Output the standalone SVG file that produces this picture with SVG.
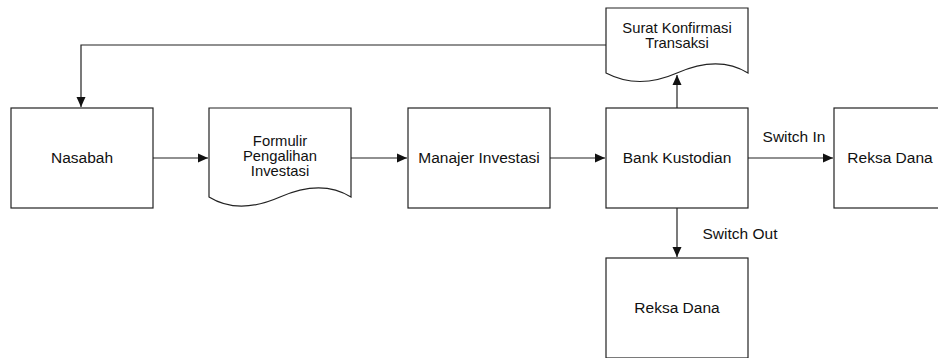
<svg xmlns="http://www.w3.org/2000/svg" width="938" height="358" viewBox="0 0 938 358">
<style>
.box{fill:#fff;stroke:#222;stroke-width:1.2}
.con{fill:none;stroke:#222;stroke-width:1.2}
text{font-family:"Liberation Sans",Arial,sans-serif;font-size:15.5px;fill:#111;text-anchor:middle}
text.ml{font-size:14.8px}
</style>
<defs>
<marker id="ah" viewBox="0 0 10 10" markerWidth="10" markerHeight="10" refX="10" refY="5" orient="auto" markerUnits="userSpaceOnUse">
<path d="M0,0.5 L10,5 L0,9.5 z" fill="#111"/>
</marker>
</defs>
<rect width="938" height="358" fill="#fff"/>
<g id="connectors">
<path class="con" d="M606,45 L81,45 L81,107" marker-end="url(#ah)"/>
<path class="con" d="M153,158 L208,158" marker-end="url(#ah)"/>
<path class="con" d="M351,158 L407,158" marker-end="url(#ah)"/>
<path class="con" d="M550,158 L605,158" marker-end="url(#ah)"/>
<path class="con" d="M748,158 L833,158" marker-end="url(#ah)"/>
<path class="con" d="M677,108 L677,75" marker-end="url(#ah)"/>
<path class="con" d="M677,208 L677,257" marker-end="url(#ah)"/>
<text x="794" y="142">Switch In</text>
<text x="740" y="239">Switch Out</text>
</g>
<g id="nasabah">
<rect class="box" x="11" y="108" width="142" height="100"/>
<text x="82" y="163">Nasabah</text>
</g>
<g id="formulir">
<path class="box" d="M209,108 L351,108 L351,197 C330,184 305,186 280,197 C255,208 230,210 209,197 Z"/>
<text class="ml" x="280" y="146">Formulir</text>
<text class="ml" x="280" y="161">Pengalihan</text>
<text class="ml" x="280" y="176">Investasi</text>
</g>
<g id="manajer">
<rect class="box" x="408" y="108" width="142" height="100"/>
<text x="479" y="163">Manajer Investasi</text>
</g>
<g id="bank">
<rect class="box" x="606" y="108" width="142" height="100"/>
<text x="677" y="163">Bank Kustodian</text>
</g>
<g id="surat">
<path class="box" d="M606,8 L748,8 L748,73 C727,60 702,62 677,73 C652,84 627,84 606,73 Z"/>
<text class="ml" x="677" y="33">Surat Konfirmasi</text>
<text class="ml" x="677" y="48">Transaksi</text>
</g>
<g id="reksa-in">
<rect class="box" x="834" y="108" width="142" height="100"/>
<text x="890" y="163">Reksa Dana</text>
</g>
<g id="reksa-out">
<rect class="box" x="606" y="258" width="142" height="100"/>
<text x="677" y="313">Reksa Dana</text>
</g>
</svg>
